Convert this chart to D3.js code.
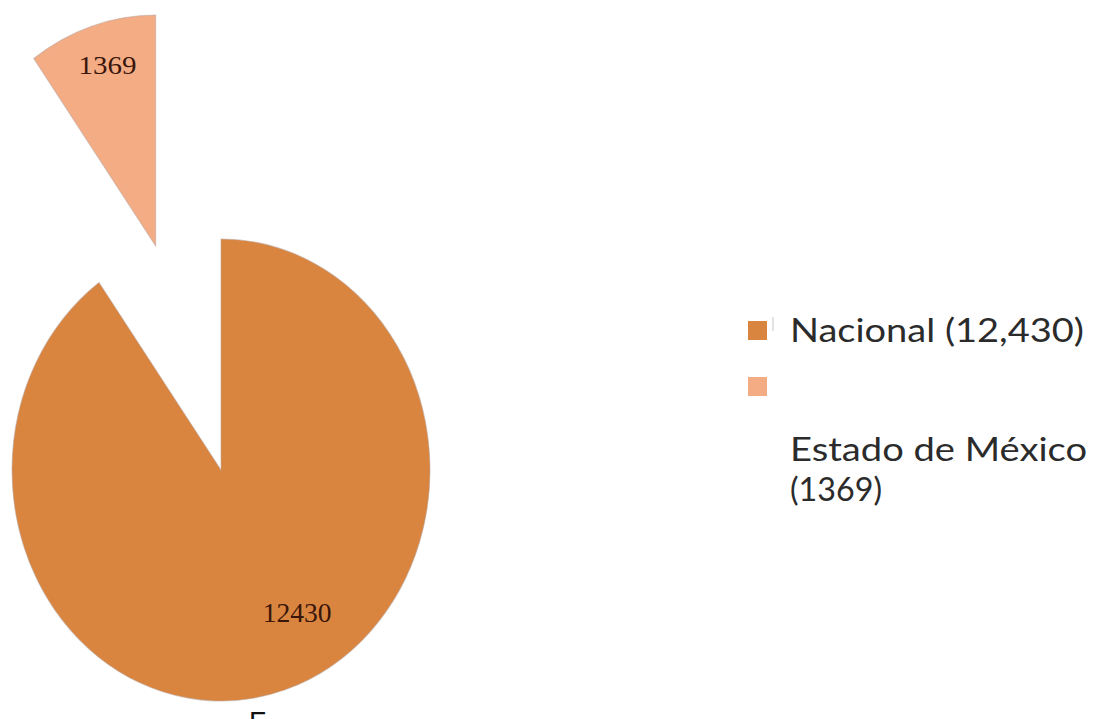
<!DOCTYPE html>
<html>
<head>
<meta charset="utf-8">
<script src="https://cdn.jsdelivr.net/npm/d3@7"></script>
<style>
  html, body { margin: 0; padding: 0; background: #ffffff; }
  svg { display: block; }
</style>
</head>
<body>
<svg id="chart" width="1097" height="719"></svg>
<script>
// Casos registrados
const categories = ["Nacional", "Estado de México"];
const values = [12430, 1369];
const sliceLabels = ["12430", "1369"];
const legendLabels = [["Nacional (12,430)"], ["Estado de México", "(1369)"]];
const colors = ["#D9853F", "#F4AC85"];

const W = 1097, H = 719;
const svg = d3.select("#chart");

// Pie geometry (drawn slightly taller than wide)
const cx = 221, cy = 470, R = 209, yStretch = 1.105;
const explode = [0, 213];

const pie = d3.pie().sort(null).startAngle(0).endAngle(2 * Math.PI);
const arcs = pie(values);
const arc = d3.arc().innerRadius(0).outerRadius(R);

const g = svg.append("g")
  .attr("transform", `translate(${cx},${cy}) scale(1,${yStretch})`);

arcs.forEach((a, i) => {
  const mid = (a.startAngle + a.endAngle) / 2;
  const dx = explode[i] * Math.sin(mid);
  const dy = -explode[i] * Math.cos(mid);
  a.offset = [dx, dy];
  g.append("path")
    .attr("d", arc(a))
    .attr("transform", `translate(${dx},${dy})`)
    .attr("fill", colors[i])
    .attr("stroke", "#b8a49c")
    .attr("stroke-opacity", 0.55)
    .attr("stroke-width", 1);
});

// Data labels: angle (deg) and radius along the slice
const labelPos = [{ angle: 149.5, r: 150, size: 28, width: 69 }, { angle: -16.5, r: 170, size: 26, width: 58 }];
arcs.forEach((a, i) => {
  const p = labelPos[i];
  const t = p.angle * Math.PI / 180;
  const x = cx + a.offset[0] + p.r * Math.sin(t);
  const y = cy + (a.offset[1] - p.r * Math.cos(t)) * yStretch;
  svg.append("text")
    .attr("x", x)
    .attr("y", y)
    .attr("text-anchor", "middle")
    .attr("dominant-baseline", "central")
    .attr("font-family", "'Liberation Serif', 'DejaVu Serif', serif")
    .attr("font-size", p.size)
    .attr("fill", "#3a160a")
    .attr("textLength", p.width)
    .attr("lengthAdjust", "spacingAndGlyphs")
    .text(sliceLabels[i]);
});

// Legend
const legend = svg.append("g").attr("transform", "translate(748,0)");
const legendRows = [{ markerY: 321, lineY: [342] }, { markerY: 377, lineY: [461, 501] }];
const legendWidths = [[294], [297, 92]];
categories.forEach((c, i) => {
  legend.append("rect")
    .attr("x", 0)
    .attr("y", legendRows[i].markerY)
    .attr("width", 19)
    .attr("height", 19)
    .attr("fill", colors[i]);
  legendLabels[i].forEach((line, j) => {
    legend.append("text")
      .attr("x", 42)
      .attr("y", legendRows[i].lineY[j])
      .attr("font-family", "Lato, 'Open Sans', sans-serif")
      .attr("font-size", 33)
      .attr("fill", "#2b2b2b")
      .attr("textLength", legendWidths[i][j])
      .attr("lengthAdjust", "spacingAndGlyphs")
      .text(line);
  });
});
// small cursor mark beside the first entry
legend.append("line")
  .attr("x1", 25).attr("x2", 25)
  .attr("y1", 317).attr("y2", 331)
  .attr("stroke", "#c8c8c8")
  .attr("stroke-width", 1);

// Source note (cut by the bottom edge)
svg.append("text")
  .attr("x", 249)
  .attr("y", 731)
  .attr("font-family", "'Liberation Sans', sans-serif")
  .attr("font-size", 28)
  .attr("fill", "#111111")
  .text("F");
</script>
</body>
</html>
